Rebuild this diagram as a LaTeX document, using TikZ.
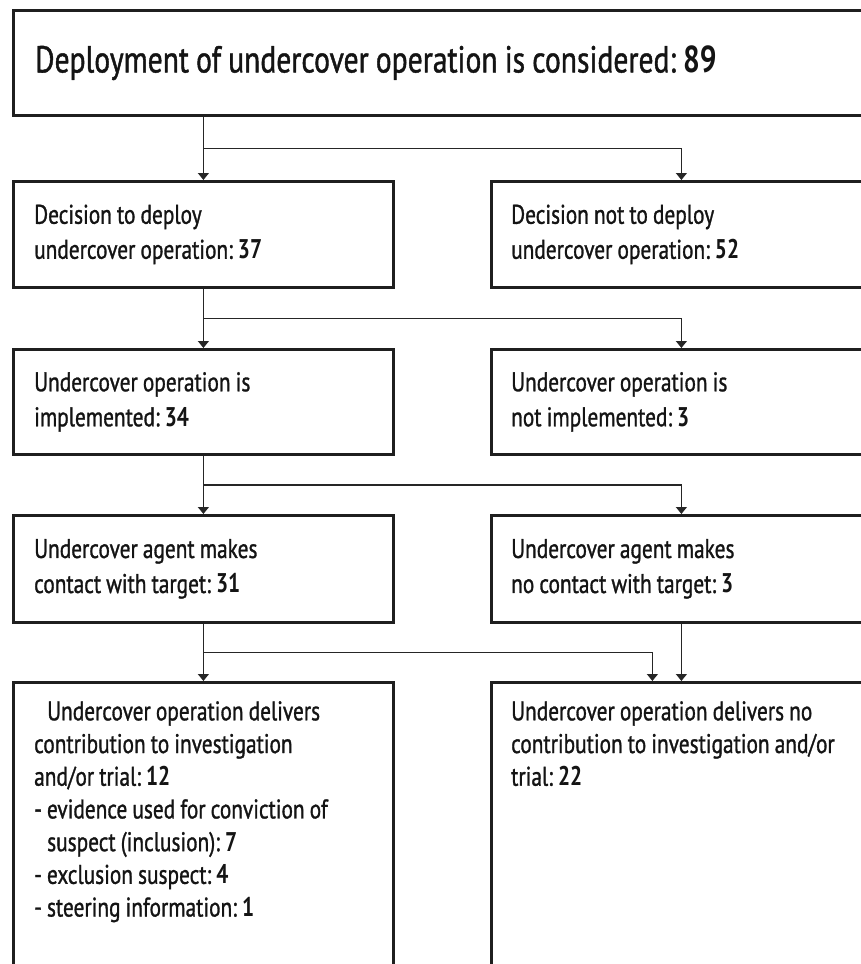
\documentclass[tikz,border=0pt]{standalone}
\usepackage{fontspec}
\setmainfont{PT Sans}[FakeStretch=0.79, WordSpace=0.9,
                      UprightFeatures={FakeBold=1.1}]
\usepackage{tikz}
\usetikzlibrary{arrows.meta, positioning, calc}
\frenchspacing
\tikzset{
  frame/.style     = {rectangle, draw=black!88, line width=2.8pt, anchor=north west,
                      inner sep=0pt},
  leftframe/.style = {frame, minimum width=380pt},
  rightframe/.style= {frame, minimum width=380pt},
  stagetext/.style = {align=left, inner sep=0pt, text=black!92,
                      font=\fontsize{27}{35}\selectfont},
  listtext/.style  = {stagetext, anchor=north west, font=\fontsize{27}{32.7}\selectfont},
  arr/.style       = {-{Triangle[width=11pt, length=7pt]}, line width=1.3pt, draw=black!85},
}

\begin{document}
\begin{tikzpicture}[x=1pt, y=-1pt]
  \useasboundingbox (0,0) rectangle (861,964);
  \clip (0,0) rectangle (861,964);

  % Top box
  \node[frame, minimum width=880pt, minimum height=105pt] (consider) at (12,9) {};
  \node[stagetext, font=\fontsize{37.5}{42}\selectfont, right=23pt of consider.west]
    (considertext) {Deployment of undercover operation is considered: \textbf{89}};

  % Row 1
  \node[leftframe, minimum height=106pt] (deploy) at (12,180) {};
  \node[rightframe, minimum height=106pt] (nodeploy) at (490,180) {};
  \node[stagetext, right=22pt of deploy.west] (deploytext)
    {Decision to deploy\\undercover operation: \textbf{37}};
  \node[stagetext, right=21pt of nodeploy.west] (nodeploytext)
    {Decision not to deploy\\undercover operation: \textbf{52}};

  % Row 2
  \node[leftframe, minimum height=105pt] (impl) at (12,348) {};
  \node[rightframe, minimum height=105pt] (noimpl) at (490,348) {};
  \node[stagetext, right=22pt of impl.west] (impltext)
    {Undercover operation is\\implemented: \textbf{34}};
  \node[stagetext, right=21pt of noimpl.west] (noimpltext)
    {Undercover operation is\\not implemented: \textbf{3}};

  % Row 3
  \node[leftframe, minimum height=107pt] (contact) at (12,514) {};
  \node[rightframe, minimum height=107pt] (nocontact) at (490,514) {};
  \node[stagetext, right=22pt of contact.west] (contacttext)
    {Undercover agent makes\\contact with target: \textbf{31}};
  \node[stagetext, right=21pt of nocontact.west] (nocontacttext)
    {Undercover agent makes\\no contact with target: \textbf{3}};

  % Row 4 (runs off the bottom)
  \node[leftframe, minimum height=330pt] (contrib) at (12,681) {};
  \node[rightframe, minimum height=330pt] (nocontrib) at (490,681) {};
  \node[listtext] (contribtext) at (34,701)
    {\hspace{13pt}Undercover operation delivers\\
     contribution to investigation\\
     and/or trial: \textbf{12}\\
     - evidence used for conviction of\\
     \hspace{13pt}suspect (inclusion): \textbf{7}\\
     - exclusion suspect: \textbf{4}\\
     - steering information: \textbf{1}};
  \node[listtext] (nocontribtext) at (511,701)
    {Undercover operation delivers no\\
     contribution to investigation and/or\\
     trial: \textbf{22}};

  % Connectors
  \coordinate (fork1) at ($(consider.south -| deploy.north)!0.5!(deploy.north)$);
  \coordinate (fork2) at ($(deploy.south)!0.5!(impl.north)$);
  \coordinate (fork3) at ($(impl.south)!0.5!(contact.north)$);
  \coordinate (fork4) at ($(contact.south)!0.5!(contrib.north)$);
  \coordinate (joinin) at ([xshift=-29pt]nocontrib.north);

  \draw[arr] (consider.south -| deploy.north) -- (deploy.north);
  \draw[arr] (fork1) -| (nodeploy.north);
  \draw[arr] (deploy.south) -- (impl.north);
  \draw[arr] (fork2) -| (noimpl.north);
  \draw[arr] (impl.south) -- (contact.north);
  \draw[arr] (fork3) -| (nocontact.north);
  \draw[arr] (contact.south) -- (contrib.north);
  \draw[arr] (fork4) -| (joinin);
  \draw[arr] (nocontact.south) -- (nocontrib.north);
\end{tikzpicture}
\end{document}
